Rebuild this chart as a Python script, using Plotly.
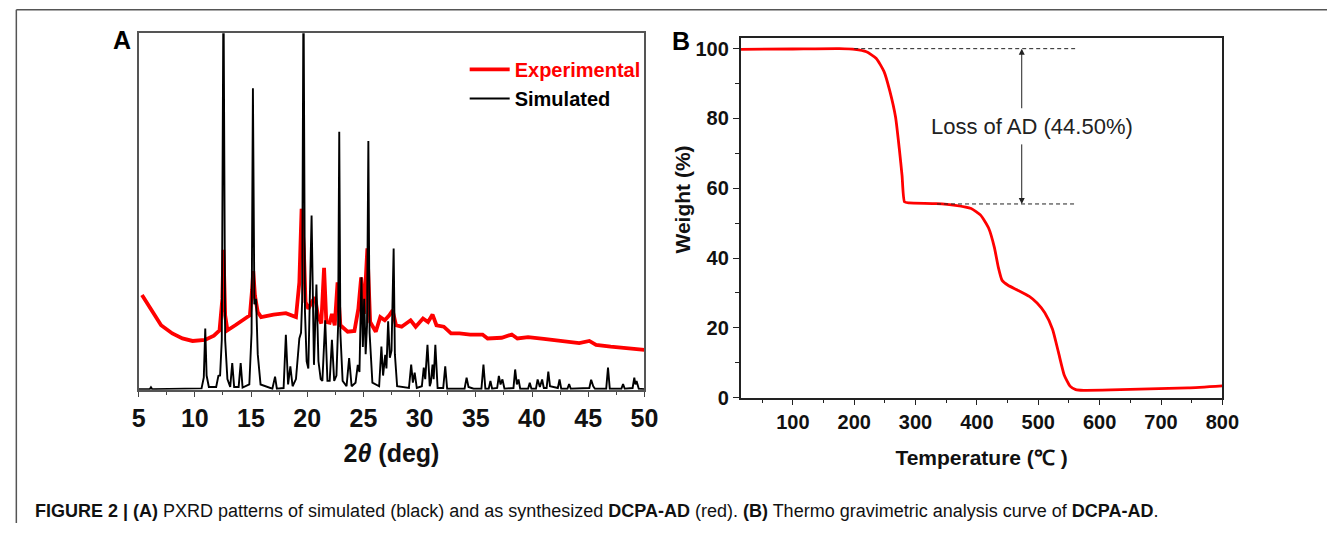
import plotly.graph_objects as go

# ---------------- Panel A: PXRD ----------------
# Experimental (red) pattern, digitized: 2theta (deg) and relative intensity
EXP_2THETA = [5.3, 6.1, 7.0, 8.0, 8.9, 9.8, 10.9, 11.7, 12.2, 12.45, 12.55, 12.7, 12.9,
              13.6, 14.4, 14.9, 15.1, 15.2, 15.35, 15.6, 15.9, 17.0, 18.1, 19.0, 19.3,
              19.5, 19.7, 19.85, 20.1, 20.4, 20.7, 20.95, 21.25, 21.5, 21.7, 22.0, 22.2,
              22.45, 22.7, 22.95, 23.6, 24.2, 24.55, 24.8, 25.05, 25.35, 25.6, 26.1,
              26.5, 26.9, 27.3, 27.6, 27.9, 28.4, 29.2, 29.65, 30.3, 30.75, 31.15, 31.5,
              32.15, 32.8, 33.55, 34.5, 35.6, 36.05, 37.3, 38.2, 38.7, 39.65, 41.05,
              42.6, 44.2, 45.1, 45.7, 47.0, 48.2, 49.5, 50.0]
EXP_INT = [26.6, 22.7, 18.1, 15.8, 14.4, 13.7, 14.0, 15.2, 16.7, 25.5, 39.3, 20.9, 16.7,
           18.1, 20.0, 20.9, 28.2, 33.3, 26.4, 21.8, 20.4, 21.1, 21.5, 20.4, 30.1,
           50.8, 39.3, 24.6, 22.7, 24.6, 25.9, 20.9, 18.6, 34.2, 19.0, 18.8, 21.3,
           18.1, 30.1, 18.1, 16.3, 16.5, 22.7, 31.5, 21.3, 39.7, 19.0, 16.3,
           20.4, 19.5, 20.9, 22.3, 18.1, 17.7, 19.5, 17.7, 20.0, 19.0, 21.1, 18.1,
           17.7, 15.8, 15.8, 15.5, 15.5, 14.4, 14.6, 15.5, 14.4, 14.8, 14.3,
           13.7, 13.1, 13.7, 12.6, 12.1, 11.7, 11.4, 11.2]

# Simulated (black) pattern, digitized: 2theta (deg) and relative intensity
SIM_2THETA = [5.0, 6.0, 6.1, 6.2, 10.6, 10.8, 10.93, 11.05, 11.25, 11.9, 12.1, 12.25, 12.4,
              12.55, 12.7, 12.9, 13.15, 13.33, 13.5, 13.9, 14.08, 14.25, 14.85, 15.05, 15.17,
              15.3, 15.45, 15.6, 15.85, 16.9, 17.14, 17.3, 17.9, 18.1, 18.3, 18.5, 18.7,
              19.0, 19.3, 19.45, 19.55, 19.67, 19.8, 19.95, 20.1, 20.39, 20.6, 20.82, 21.0,
              21.2, 21.35, 21.6, 21.8, 22.0, 22.2, 22.4, 22.6, 22.75, 22.85, 22.95, 23.15,
              23.5, 23.73, 23.95, 24.3, 24.5, 24.65, 24.82, 24.95, 25.07, 25.2, 25.32,
              25.44, 25.55, 25.8, 26.4, 26.6, 26.75, 26.94, 27.05, 27.2, 27.35, 27.5,
              27.69, 27.8, 28.0, 29.05, 29.25, 29.4, 29.56, 29.75, 30.2, 30.37, 30.5,
              30.7, 30.9, 31.0, 31.15, 31.25, 31.4, 31.6, 32.1, 32.28, 32.45, 34.0,
              34.18, 34.35, 34.8, 35.5, 35.68, 35.85, 36.15, 36.3, 36.45, 36.9, 37.05,
              37.2, 37.37, 37.55, 38.35, 38.5, 38.65, 38.8, 38.95, 39.65, 39.8, 39.95,
              40.35, 40.5, 40.7, 40.9, 41.05, 41.3, 41.45, 41.6, 42.3, 42.45, 42.6,
              43.15, 43.3, 43.45, 45.1, 45.26, 45.45, 45.6, 46.6, 46.76, 46.92, 47.95,
              48.1, 48.25, 48.95, 49.1, 49.2, 49.3, 49.5, 50.0]
SIM_INT = [0.2, 0.2, 0.7, 0.2, 0.4, 3.5, 17.2, 4.0, 0.8, 0.8, 3.9, 4.0, 14.0,
           115.0, 14.0, 3.0, 0.8, 7.5, 0.8, 0.8, 7.5, 0.6, 1.5, 16.0, 84.6,
           24.0, 25.5, 10.0, 1.5, 0.3, 3.7, 0.3, 0.5, 15.4, 1.5, 6.6, 1.0,
           3.0, 14.4, 16.0, 25.0, 115.0, 22.0, 8.0, 6.0, 48.9, 7.0, 29.5, 8.0,
           3.0, 2.5, 19.5, 2.5, 2.5, 14.0, 2.5, 4.0, 18.0, 72.4, 16.0, 2.5,
           1.0, 8.9, 1.0, 2.0, 7.0, 5.0, 31.6, 12.0, 25.5, 10.0, 18.0,
           69.8, 16.0, 2.0, 1.0, 12.1, 4.0, 9.8, 6.0, 19.2, 9.0, 11.0,
           39.6, 10.0, 1.0, 0.5, 7.1, 2.0, 4.8, 0.5, 1.0, 6.2, 3.0,
           12.6, 1.0, 2.0, 7.1, 3.0, 12.6, 0.5, 0.5, 6.6, 0.3, 0.3,
           3.4, 0.8, 0.3, 0.3, 7.1, 0.3, 0.3, 2.5, 0.3, 0.5, 3.9,
           1.5, 2.9, 0.3, 0.5, 5.7, 1.5, 2.9, 0.3, 0.3, 2.0, 0.3,
           0.3, 2.9, 0.8, 2.9, 0.5, 0.5, 5.1, 1.0, 0.5, 2.9, 0.3,
           0.3, 1.6, 0.3, 0.5, 2.8, 1.0, 0.3, 0.3, 6.2, 0.3, 0.3,
           1.6, 0.3, 0.5, 3.4, 1.5, 2.5, 0.3, 0.2]

# ---------------- Panel B: TGA ----------------
TGA_TEMP = [15, 100, 176, 201, 220, 236, 248.5, 258, 267.4, 273.7, 278, 282, 289.5,
            333.7, 365, 390.6, 406, 419, 428.5, 434.8, 441, 450.6, 466.4, 485.3, 498,
            510.6, 523.2, 532.7, 542.2, 551.7, 561, 573.8, 618, 681, 744, 800]
TGA_WEIGHT = [99.8, 99.9, 100.0, 99.8, 99.1, 97.2, 93.5, 87.9, 80.4, 71.0, 63.6, 56.1, 55.8,
              55.6, 55.1, 54.2, 52.3, 48.6, 43.0, 37.4, 33.6, 32.2, 30.8, 29.0, 27.1,
              24.3, 19.6, 13.1, 6.5, 3.3, 2.3, 2.1, 2.2, 2.5, 2.8, 3.4]

LOSS_HIGH = 100.0        # % before AD loss
LOSS_LOW = 55.5          # % after AD loss
LOSS_LABEL = "Loss of AD (44.50%)"
LOSS_ARROW_T = 473       # temperature where the double arrow is drawn
DASH_HIGH_T = [200, 560]
DASH_LOW_T = [335, 560]

A_XTICKS = [5, 10, 15, 20, 25, 30, 35, 40, 45, 50]
B_XTICKS = [100, 200, 300, 400, 500, 600, 700, 800]
B_YTICKS = [0, 20, 40, 60, 80, 100]

CAPTION = ("<b>FIGURE 2 | (A)</b> PXRD patterns of simulated (black) and as synthesized "
           "<b>DCPA-AD</b> (red). <b>(B)</b> Thermo gravimetric analysis curve of <b>DCPA-AD</b>.")

FONT = "Liberation Sans, Arial, Helvetica, sans-serif"
W, H = 1344, 534

fig = go.Figure()
fig.add_trace(go.Scatter(x=EXP_2THETA, y=EXP_INT, mode="lines",
                         name="<span style='color:#ff0000'><b>Experimental</b></span>",
                         line=dict(color="#ff0000", width=3.8), xaxis="x", yaxis="y"))
fig.add_trace(go.Scatter(x=SIM_2THETA, y=SIM_INT, mode="lines",
                         name="<b>Simulated</b>",
                         line=dict(color="#000000", width=1.9), xaxis="x", yaxis="y"))
fig.add_trace(go.Scatter(x=TGA_TEMP, y=TGA_WEIGHT, mode="lines", showlegend=False,
                         line=dict(color="#ff0000", width=2.8, shape="spline", smoothing=0.5),
                         xaxis="x2", yaxis="y2"))


def px_x(p):
    return p / W


def px_y(p):
    return 1 - p / H


fig.update_layout(
    width=W, height=H, autosize=False,
    margin=dict(l=0, r=0, t=0, b=0, pad=0),
    paper_bgcolor="white", plot_bgcolor="white",
    font=dict(family=FONT, color="#111"),
    xaxis=dict(domain=[px_x(134), px_x(649)], range=[5, 50], anchor="y",
               tickvals=A_XTICKS, ticktext=[f"<b>{t}</b>" for t in A_XTICKS],
               showline=True, mirror=True, showgrid=False, zeroline=False,
               ticks="outside", ticklen=5, tickwidth=1.3, tickcolor="#444",
               linecolor="#555", linewidth=1.6,
               tickfont=dict(family=FONT, size=25, color="#111"),
               minor=dict(dtick=2.5, tick0=5, ticks="outside", ticklen=3, tickcolor="#444"),
               title=dict(text="<b>2<i>θ</i> (deg)</b>", font=dict(family=FONT, size=25, color="#111"),
                          standoff=14)),
    yaxis=dict(domain=[px_y(398), px_y(34)], range=[0, 100], anchor="x",
               showline=True, mirror=True, linecolor="#555", linewidth=1.6,
               showticklabels=False, ticks="", showgrid=False, zeroline=False),
    xaxis2=dict(domain=[px_x(747), px_x(1237.5)], range=[15, 800], anchor="y2",
                tickvals=B_XTICKS, ticktext=[f"<b>{t}</b>" for t in B_XTICKS],
                showline=True, mirror=True, showgrid=False, zeroline=False,
                ticks="outside", ticklen=6, tickwidth=1.3, tickcolor="#222",
                linecolor="#222", linewidth=1.6,
                tickfont=dict(family=FONT, size=20, color="#111"),
                minor=dict(dtick=50, tick0=0, ticks="outside", ticklen=4, tickcolor="#222"),
                title=dict(text="<b>Temperature (℃ )</b>", font=dict(family=FONT, size=21, color="#111"),
                           standoff=18)),
    yaxis2=dict(domain=[px_y(406), px_y(39)], range=[0, 103], anchor="x2",
                tickvals=B_YTICKS, ticktext=[f"<b>{t}</b>" for t in B_YTICKS],
                showline=True, mirror=True, showgrid=False, zeroline=False,
                ticks="outside", ticklen=6, tickwidth=1.3, tickcolor="#222",
                linecolor="#222", linewidth=1.6,
                tickfont=dict(family=FONT, size=20, color="#111"),
                minor=dict(dtick=10, tick0=0, ticks="outside", ticklen=4, tickcolor="#222")),
    legend=dict(x=px_x(466), y=px_y(51), xanchor="left", yanchor="top",
                bgcolor="rgba(0,0,0,0)", font=dict(family=FONT, size=20, color="#000"),
                tracegroupgap=0, itemwidth=40),
    showlegend=True,
)

# y-axis title of panel B (placed as in the reference, above the axis centre)
fig.add_annotation(xref="paper", yref="paper", x=px_x(688), y=px_y(204), text="<b>Weight (%)</b>",
                   textangle=-90, xanchor="center", yanchor="middle", showarrow=False,
                   font=dict(family=FONT, size=21, color="#111"))

# dashed reference lines and double arrow (Panel B)
fig.add_shape(type="line", xref="x2", yref="y2", x0=DASH_HIGH_T[0], x1=DASH_HIGH_T[1],
              y0=LOSS_HIGH, y1=LOSS_HIGH, line=dict(color="#222", width=1, dash="4px,3px"))
fig.add_shape(type="line", xref="x2", yref="y2", x0=DASH_LOW_T[0], x1=DASH_LOW_T[1],
              y0=LOSS_LOW, y1=LOSS_LOW, line=dict(color="#222", width=1, dash="4px,3px"))
fig.add_annotation(xref="x2", yref="y2", axref="x2", ayref="y2", x=LOSS_ARROW_T, y=LOSS_HIGH,
                   ax=LOSS_ARROW_T, ay=82.5, text="", showarrow=True, arrowhead=2,
                   arrowsize=1.2, arrowwidth=1, arrowcolor="#222")
fig.add_annotation(xref="x2", yref="y2", axref="x2", ayref="y2", x=LOSS_ARROW_T, y=LOSS_LOW,
                   ax=LOSS_ARROW_T, ay=73, text="", showarrow=True, arrowhead=2,
                   arrowsize=1.2, arrowwidth=1, arrowcolor="#222")
fig.add_annotation(xref="x2", yref="y2", x=490, y=77.7, text=LOSS_LABEL, showarrow=False,
                   xanchor="center", yanchor="middle",
                   font=dict(family=FONT, size=22, color="#222"))

# panel letters
fig.add_annotation(xref="paper", yref="paper", x=px_x(117), y=px_y(41), text="<b>A</b>",
                   xanchor="center", yanchor="middle",
                   showarrow=False, font=dict(family=FONT, size=25, color="#000"))
fig.add_annotation(xref="paper", yref="paper", x=px_x(686), y=px_y(42), text="<b>B</b>",
                   xanchor="center", yanchor="middle",
                   showarrow=False, font=dict(family=FONT, size=25, color="#000"))

# caption
fig.add_annotation(xref="paper", yref="paper", x=px_x(26), y=px_y(522), xanchor="left",
                   yanchor="middle", text=CAPTION, showarrow=False,
                   font=dict(family=FONT, size=18, color="#111"))

# outer frame (top and left rules)
fig.add_shape(type="line", xref="paper", yref="paper", x0=px_x(9.5), x1=1, y0=px_y(10), y1=px_y(10),
              line=dict(color="#555", width=1.5))
fig.add_shape(type="line", xref="paper", yref="paper", x0=px_x(9.5), x1=px_x(9.5), y0=px_y(10), y1=0,
              line=dict(color="#555", width=1.5))

fig.write_html("out.html", config={"displayModeBar": False},
               post_script="document.body.style.margin='0';document.body.style.overflow='hidden';")
